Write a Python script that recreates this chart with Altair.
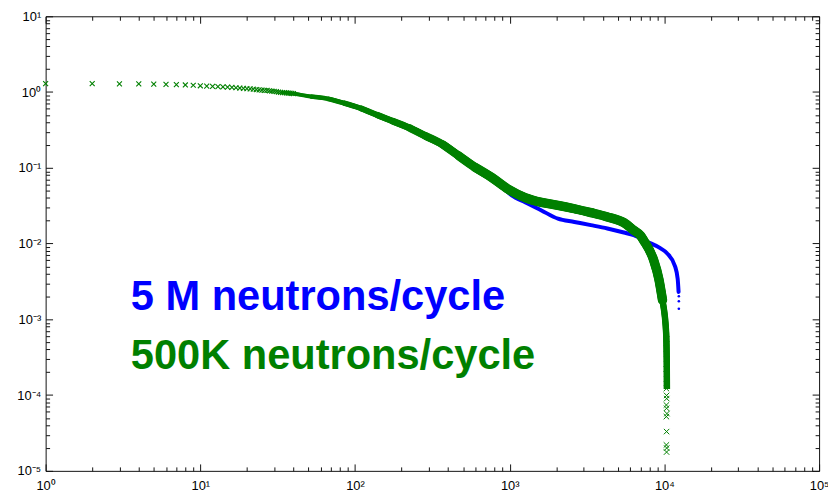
import altair as alt
import pandas as pd

# ---------------- data ----------------
# green (500K neutrons/cycle): individually visible 'x' markers at low x
green_marker_x = [1, 2, 3, 4, 5, 6, 7, 8, 9, 10, 11, 12, 13, 14, 15, 16, 17, 18, 19, 20,
                  21, 22, 23, 24, 25, 26, 27, 28, 29, 30, 31, 32, 33, 34, 35, 36, 37, 38,
                  39, 40]
green_marker_y = [1.29, 1.29, 1.28, 1.28, 1.27, 1.26, 1.25, 1.24, 1.23, 1.21, 1.20, 1.19,
                  1.18, 1.17, 1.16, 1.15, 1.14, 1.13, 1.12, 1.11, 1.10, 1.09, 1.08, 1.07,
                  1.06, 1.05, 1.05, 1.04, 1.03, 1.02, 1.01, 1.00, 0.99, 0.985, 0.98, 0.975,
                  0.97, 0.965, 0.96, 0.955]

# green dense band (markers merged into a thick curve)
green_line_x = [33, 40, 51.5, 66, 84, 108, 138, 176, 225, 287, 368, 469, 600, 766, 980,
                1256, 1604, 2050, 2620, 3350, 4280, 5470, 6340, 7000, 7350, 8510, 9210,
                9720, 10260, 10360, 10380]
green_line_y = [0.99, 0.955, 0.875, 0.82, 0.72, 0.614, 0.50, 0.412, 0.336, 0.262,
                0.204, 0.144, 0.101, 0.0746, 0.052, 0.0405, 0.035, 0.032, 0.0288, 0.0256,
                0.0225, 0.0189, 0.0150, 0.0128, 0.0110, 0.0061, 0.0034, 0.0018, 6.7e-4,
                2.45e-4, 1.2e-4]

# green scattered markers at the bottom of the drop
green_tail_x = [10330, 10300, 10350, 10280, 10330, 10300, 10330, 10350, 10300, 10330,
                10380, 10300, 10330, 10300, 10350, 10330]
green_tail_y = [5.5e-4, 4.1e-4, 3.0e-4, 2.2e-4, 1.64e-4, 1.22e-4, 9.9e-5, 9.0e-5, 7.4e-5,
                6.7e-5, 5.7e-5, 5.2e-5, 3.3e-5, 2.2e-5, 2.0e-5, 1.77e-5]

# blue (5 M neutrons/cycle): hidden under green up to ~1e3
blue_line_x = [108, 176, 287, 469, 600, 766, 900, 980, 1100, 1256, 1604, 2050, 2620, 3350,
               4280, 5470, 6340, 7710, 9400, 10360, 11720, 12190, 12350]
blue_line_y = [0.614, 0.412, 0.262, 0.144, 0.101, 0.0746, 0.058, 0.047, 0.040, 0.0352,
               0.0274, 0.0213, 0.0193, 0.0175, 0.0158, 0.0140, 0.0129, 0.0106, 0.0087,
               0.0075, 0.0050, 0.0034, 0.0023]
blue_dot_x = [12400, 12400, 12400]
blue_dot_y = [0.00202, 0.00173, 0.00138]

label_blue = ["5 M neutrons/cycle"]
label_green = ["500K neutrons/cycle"]

x_major = [1, 10, 100, 1000, 10000, 100000]
y_major = [1e-5, 1e-4, 1e-3, 1e-2, 1e-1, 1, 10]
x_ticks = [m * 10 ** k for k in range(0, 5) for m in range(1, 10)] + [100000]
y_ticks = [m * 10.0 ** k for k in range(-5, 1) for m in range(1, 10)] + [10]

# ---------------- styling ----------------
W, H = 781, 459
BLUE = "#0000ff"
GREEN = "#008000"
FONT = "Liberation Sans"
X_SHAPE = "M-1,-1L1,1M-1,1L1,-1"

# band widens gradually: (start x, stroke width); widths above TAIL_W stop at TAIL_X
BAND_STEPS = [(33, 3.5), (40, 4.0), (51.5, 4.5), (66, 5.0), (84, 5.5), (108, 6.0),
              (138, 6.5), (176, 7.0), (225, 7.5), (287, 8.0), (368, 8.5), (469, 9.0),
              (600, 9.5)]
TAIL_X, TAIL_W = 9720, 6.5

MAJOR = "abs(log(datum.value)/LN10 - round(log(datum.value)/LN10)) < 0.001"
tick_len = {"condition": {"test": MAJOR, "value": 7}, "value": 4}

x_scale = alt.Scale(type="log", domain=[1, 100000], nice=False)
y_scale = alt.Scale(type="log", domain=[1e-5, 10], nice=False)

x_lab = alt.Axis(orient="bottom", values=x_major, ticks=False, tickSize=0, domain=False,
                 grid=False, title=None, labelFlush=False, labelOverlap=False,
                 labelPadding=9, labelFontSize=13, labelFont=FONT, labelColor="#000",
                 labelExpr="'10' + ['⁰','¹','²','³','⁴','⁵'][round(log(datum.value)/LN10)]")
y_lab = alt.Axis(orient="left", values=y_major, ticks=False, tickSize=0, domain=False,
                 grid=False, title=None, labelFlush=False, labelOverlap=False,
                 labelPadding=5, labelFontSize=13, labelFont=FONT, labelColor="#000",
                 labelExpr="'10' + ['⁻⁵','⁻⁴','⁻³','⁻²','⁻¹','⁰','¹'][round(log(datum.value)/LN10) + 5]")


def tick_axis(orient, offset, values):
    return alt.Axis(orient=orient, offset=offset, values=values, labels=False, domain=False,
                    grid=False, title=None, ticks=True, tickSize=tick_len,
                    tickColor="#111", tickWidth=1)


x_tick_bottom = tick_axis("top", -H, x_ticks)
x_tick_top = tick_axis("bottom", -H, x_ticks)
y_tick_left = tick_axis("right", -W, y_ticks)
y_tick_right = tick_axis("left", -W, y_ticks)

# ---------------- data frames ----------------
df_gm = pd.DataFrame({"x": green_marker_x, "y": green_marker_y})
df_gl = pd.DataFrame({"x": green_line_x, "y": green_line_y})
df_gt = pd.DataFrame({"x": green_tail_x, "y": green_tail_y})
df_bl = pd.DataFrame({"x": blue_line_x, "y": blue_line_y})
df_bd = pd.DataFrame({"x": blue_dot_x, "y": blue_dot_y})


def enc(xaxis=None, yaxis=None):
    return dict(
        x=alt.X("x:Q", scale=x_scale, axis=xaxis),
        y=alt.Y("y:Q", scale=y_scale, axis=yaxis),
    )


blue_line = alt.Chart(df_bl).mark_line(
    color=BLUE, strokeWidth=4, strokeCap="round", strokeJoin="round",
    interpolate="monotone"
).encode(**enc(x_lab, y_lab))

blue_dots = alt.Chart(df_bd).mark_circle(color=BLUE, size=7, opacity=1).encode(
    **enc(x_tick_bottom, y_tick_left))

green_layers = []
for i, (x0, w) in enumerate(BAND_STEPS):
    hi = 20000 if w <= TAIL_W else TAIL_X
    cap = "butt" if w <= TAIL_W else "round"
    axes = (x_tick_top, y_tick_right) if i == 0 else (None, None)
    green_layers.append(
        alt.Chart(df_gl).transform_filter(
            f"datum.x >= {x0} && datum.x <= {hi}"
        ).mark_line(
            color=GREEN, strokeWidth=w, strokeCap=cap, strokeJoin="round",
            interpolate="monotone"
        ).encode(**enc(*axes))
    )

green_marks = alt.Chart(df_gm).mark_point(
    shape=X_SHAPE, filled=False, color=GREEN, strokeWidth=1.1, size=25, opacity=1
).encode(**enc())

green_tail = alt.Chart(df_gt).mark_point(
    shape=X_SHAPE, filled=False, color=GREEN, strokeWidth=1, size=30, opacity=1
).encode(**enc())

text_blue = alt.Chart(pd.DataFrame({"label": label_blue})).mark_text(
    align="left", baseline="alphabetic", font=FONT, fontSize=42, fontWeight="bold",
    color=BLUE
).encode(text="label:N", x=alt.value(86), y=alt.value(297))

text_green = alt.Chart(pd.DataFrame({"label": label_green})).mark_text(
    align="left", baseline="alphabetic", font=FONT, fontSize=42, fontWeight="bold",
    color=GREEN
).encode(text="label:N", x=alt.value(86), y=alt.value(356))

chart = alt.layer(
    blue_line, blue_dots, *green_layers, green_marks, green_tail, text_blue, text_green
).resolve_axis(
    x="independent", y="independent"
).properties(
    width=W, height=H,
    autosize=alt.AutoSizeParams(type="none"),
    padding={"left": 38, "top": 6, "right": 9, "bottom": 22},
    background="white",
).configure_view(stroke="#111", strokeWidth=1)

chart.save("out.html", embed_options={"renderer": "svg", "actions": False})
